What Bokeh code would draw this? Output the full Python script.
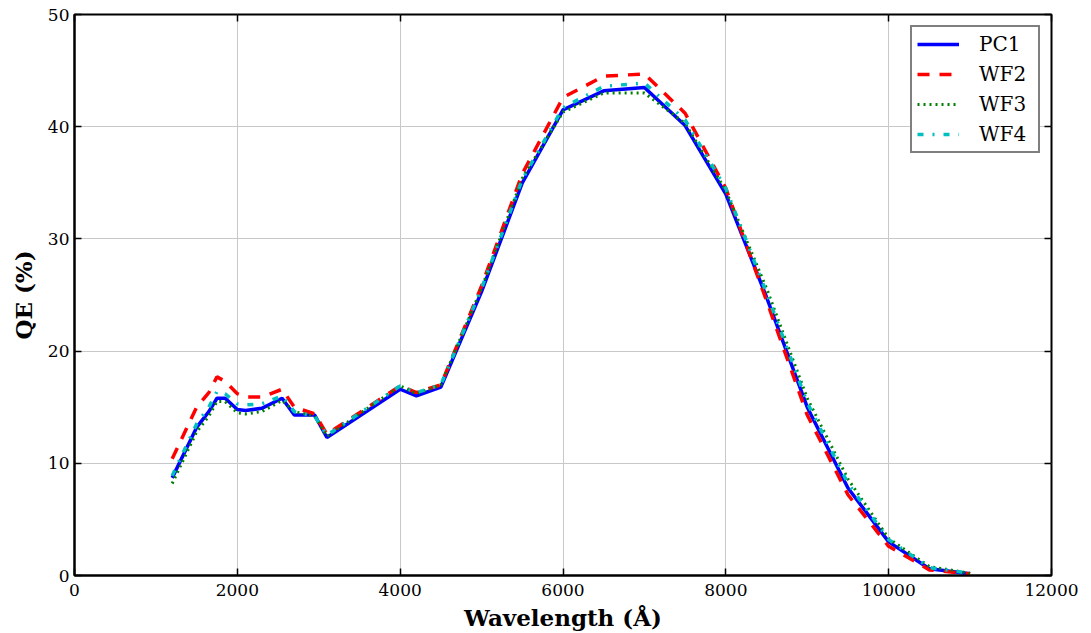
from bokeh.plotting import figure
from bokeh.models import LinearAxis, FixedTicker, Legend, LegendItem
from bokeh.embed import file_html
from bokeh.resources import INLINE

wavelength = [1200, 1500, 1650, 1750, 1850, 2000, 2100, 2300, 2550, 2700, 2950, 3100,
              4000, 4200, 4500, 5000, 5500, 6000, 6500, 7000, 7500, 8000, 8500, 9000,
              9500, 10000, 10500, 11000]
pc1 = [8.7, 13.2, 14.6, 15.8, 15.8, 14.8, 14.7, 14.9, 15.8, 14.3, 14.3, 12.3,
       16.6, 16.0, 16.8, 25.3, 35.0, 41.5, 43.2, 43.5, 40.1, 34.0, 24.8, 15.0,
       7.8, 3.0, 0.6, 0.15]
wf2 = [10.4, 15.0, 16.3, 17.7, 17.3, 16.2, 15.9, 15.9, 16.6, 15.0, 14.4, 12.6,
       16.9, 16.3, 17.0, 25.8, 35.8, 42.6, 44.5, 44.7, 41.2, 34.5, 24.5, 14.3,
       7.2, 2.6, 0.5, 0.15]
wf3 = [8.2, 12.8, 14.2, 15.5, 15.5, 14.5, 14.4, 14.6, 15.6, 14.6, 14.2, 12.4,
       16.9, 16.2, 17.0, 25.6, 35.4, 41.3, 43.0, 43.0, 40.3, 34.3, 25.6, 15.8,
       8.6, 3.3, 0.8, 0.2]
wf4 = [8.9, 13.5, 15.0, 16.4, 16.2, 15.3, 15.2, 15.3, 16.0, 14.6, 14.2, 12.5,
       16.9, 16.3, 17.0, 25.6, 35.3, 41.7, 43.6, 43.9, 40.6, 34.5, 25.2, 15.4,
       8.2, 3.2, 0.7, 0.2]

series_names = ["PC1", "WF2", "WF3", "WF4"]
x_ticks = [0, 2000, 4000, 6000, 8000, 10000, 12000]
y_ticks = [0, 10, 20, 30, 40, 50]

FONT = "DejaVu Serif"

p = figure(width=1083, height=633, output_backend="svg", toolbar_location=None,
           x_range=(0, 12000), y_range=(0, 50),
           min_border_left=74, min_border_right=32, min_border_top=14, min_border_bottom=58)

p.outline_line_color = "black"
p.outline_line_width = 2
p.outline_line_alpha = 1.0

styles = [
    dict(color="blue", line_width=3.5, line_dash="solid"),
    dict(color="red", line_width=3.5, line_dash="12 10"),
    dict(color="green", line_width=3, line_dash="2 4"),
    dict(color="#00bfbf", line_width=3.5, line_dash="6 9 2 9"),
]
items = []
for name, ys, st in zip(series_names, [pc1, wf2, wf3, wf4], styles):
    r = p.line(wavelength, ys, line_color=st["color"], line_width=st["line_width"],
               line_dash=st["line_dash"])
    items.append(LegendItem(label=name, renderers=[r]))

for ax in [p.xaxis[0], p.yaxis[0]]:
    ax.major_tick_in = 7
    ax.major_tick_out = 0
    ax.minor_tick_line_color = None
    ax.axis_line_width = 2
    ax.major_tick_line_width = 1.5
    ax.major_label_text_font = FONT
    ax.major_label_text_font_size = "17px"
    ax.major_label_text_color = "black"
    ax.axis_label_text_font = FONT
    ax.axis_label_text_font_size = "23px"
    ax.axis_label_text_font_style = "bold"
    ax.axis_label_text_color = "black"
    ax.major_label_standoff = 5

p.xaxis[0].ticker = FixedTicker(ticks=x_ticks)
p.yaxis[0].ticker = FixedTicker(ticks=y_ticks)
p.xaxis[0].axis_label = "Wavelength (Å)"
p.yaxis[0].axis_label = "QE (%)"
p.xaxis[0].major_label_standoff = 8
p.xaxis[0].axis_label_standoff = 5
p.yaxis[0].axis_label_standoff = 8

top = LinearAxis(ticker=FixedTicker(ticks=x_ticks),
                 major_label_overrides={t: "" for t in x_ticks},
                 major_label_text_font_size="1px",
                 major_tick_in=7, major_tick_out=0, minor_tick_line_color=None,
                 axis_line_color=None, major_label_standoff=0, major_tick_line_width=1.5)
right = LinearAxis(ticker=FixedTicker(ticks=y_ticks),
                   major_label_overrides={t: "" for t in y_ticks},
                   major_label_text_font_size="1px",
                   major_tick_in=7, major_tick_out=0, minor_tick_line_color=None,
                   axis_line_color=None, major_label_standoff=0, major_tick_line_width=1.5)
p.add_layout(top, "above")
p.add_layout(right, "right")

p.xgrid.ticker = FixedTicker(ticks=x_ticks)
p.ygrid.ticker = FixedTicker(ticks=y_ticks)
p.grid.grid_line_color = "#c8c8c8"
p.grid.grid_line_width = 1

legend = Legend(items=items, location="top_right")
legend.label_text_font = FONT
legend.label_text_font_size = "20px"
legend.label_text_color = "black"
legend.glyph_width = 42
legend.glyph_height = 20
legend.label_height = 20
legend.spacing = 6
legend.padding = 5
legend.margin = 11
legend.label_standoff = 20
legend.label_width = 54
legend.border_line_color = "black"
legend.border_line_width = 2
legend.background_fill_alpha = 1.0
p.add_layout(legend, "center")

open("out.html", "w").write(file_html(p, INLINE))
